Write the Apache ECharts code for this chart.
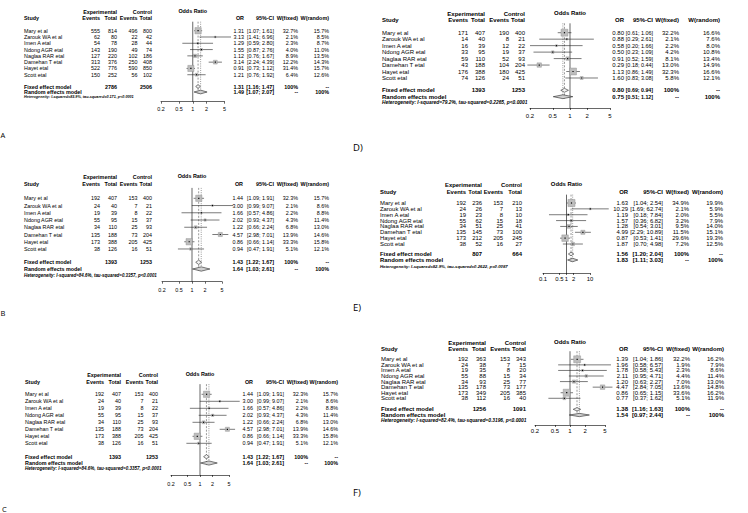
<!DOCTYPE html>
<html><head><meta charset="utf-8">
<script src="https://cdn.jsdelivr.net/npm/echarts@6/dist/echarts.min.js"></script>
<style>html,body{margin:0;padding:0;background:#fff}#c{width:748px;height:513px}</style>
</head><body><div id="c"></div>
<script>
const studies = ["Mary et al","Zarouk WA et al","Imen A etal","Ndong AGR etal","Naglaa RAR etal","Damehan T etal","Hayet etal","Scott etal"];

// Panel A
const A_expEvents = [555,62,54,143,127,313,522,150];
const A_expTotal = [814,80,78,190,220,376,776,252];
const A_ctrlEvents = [496,22,28,49,102,250,590,56];
const A_ctrlTotal = [800,42,44,74,186,408,850,102];
const A_or = [1.31,3.13,1.29,1.55,1.12,3.14,0.91,1.21];
const A_lower = [1.07,1.41,0.59,0.87,0.76,2.24,0.73,0.76];
const A_upper = [1.61,6.96,2.80,2.76,1.67,4.39,1.12,1.92];
const A_wFixed = [32.7,2.1,2.3,4.0,8.9,12.2,31.4,6.4];
const A_wRandom = [15.7,8.5,8.7,11.0,13.5,14.3,15.7,12.6];
const A_totals = [2786,2506];
const A_fixed = [1.31,1.16,1.47];
const A_random = [1.49,1.07,2.07];
const A_het = "Heterogeneity: I-squared=83.9%, tau-squared=0.171, p<0.0001";
const A_ticks = [0.2,0.5,1,2,5];
const A_tickLabels = ["0.2","0.5","1","2","5"];

// Panel B
const B_expEvents = [192,24,19,55,34,135,173,38];
const B_expTotal = [407,40,39,95,110,188,388,126];
const B_ctrlEvents = [153,7,8,15,25,73,205,16];
const B_ctrlTotal = [400,21,22,37,93,204,425,51];
const B_or = [1.44,3.00,1.66,2.02,1.22,4.57,0.86,0.94];
const B_lower = [1.09,0.99,0.57,0.93,0.66,2.98,0.66,0.47];
const B_upper = [1.91,9.07,4.86,4.37,2.24,7.01,1.14,1.91];
const B_wFixed = [32.3,2.1,2.2,4.3,6.8,13.9,33.3,5.1];
const B_wRandom = [15.7,8.6,8.8,11.4,13.0,14.6,15.8,12.1];
const B_totals = [1393,1253];
const B_fixed = [1.43,1.22,1.67];
const B_random = [1.64,1.03,2.61];
const B_het = "Heterogeneity: I-squared=84.6%, tau-squared=0.3357, p<0.0001";
const B_ticks = [0.2,0.5,1,2,5];
const B_tickLabels = ["0.2","0.5","1","2","5"];

// Panel C
const C_expEvents = [192,24,19,55,34,135,173,38];
const C_expTotal = [407,40,39,95,110,188,388,126];
const C_ctrlEvents = [153,7,8,15,25,73,205,16];
const C_ctrlTotal = [400,21,22,37,93,204,425,51];
const C_or = [1.44,3.00,1.66,2.02,1.22,4.57,0.86,0.94];
const C_lower = [1.09,0.99,0.57,0.93,0.66,2.98,0.66,0.47];
const C_upper = [1.91,9.07,4.86,4.37,2.24,7.01,1.14,1.91];
const C_wFixed = [32.3,2.1,2.2,4.3,6.8,13.9,33.3,5.1];
const C_wRandom = [15.7,8.6,8.8,11.4,13.0,14.6,15.8,12.1];
const C_totals = [1393,1253];
const C_fixed = [1.43,1.22,1.67];
const C_random = [1.64,1.03,2.61];
const C_het = "Heterogeneity: I-squared=84.6%, tau-squared=0.3357, p<0.0001";
const C_ticks = [0.2,0.5,1,2,5];
const C_tickLabels = ["0.2","0.5","1","2","5"];

// Panel D
const D_expEvents = [171,14,16,33,59,43,176,74];
const D_expTotal = [407,40,39,95,110,188,388,126];
const D_ctrlEvents = [190,8,12,19,52,104,180,24];
const D_ctrlTotal = [400,21,22,37,93,204,425,51];
const D_or = [0.80,0.88,0.58,0.50,0.91,0.29,1.13,1.60];
const D_lower = [0.61,0.29,0.20,0.23,0.52,0.18,0.86,0.83];
const D_upper = [1.06,2.61,1.66,1.09,1.59,0.44,1.49,3.08];
const D_wFixed = [32.2,2.1,2.2,4.2,8.1,13.0,32.3,5.8];
const D_wRandom = [16.6,7.6,8.0,10.8,13.4,14.9,16.6,12.1];
const D_totals = [1393,1253];
const D_fixed = [0.80,0.69,0.94];
const D_random = [0.75,0.51,1.12];
const D_het = "Heterogeneity: I-squared=79.2%, tau-squared=0.2265, p<0.0001";
const D_ticks = [0.2,0.5,1,2,5];
const D_tickLabels = ["0.2","0.5","1","2","5"];

// Panel E
const E_expEvents = [192,24,19,55,34,135,173,38];
const E_expTotal = [236,26,23,62,51,145,212,52];
const E_ctrlEvents = [153,7,8,15,25,73,205,16];
const E_ctrlTotal = [210,13,10,18,41,100,245,27];
const E_or = [1.63,10.29,1.19,1.57,1.28,4.99,0.87,1.87];
const E_lower = [1.04,1.69,0.18,0.36,0.54,2.29,0.53,0.70];
const E_upper = [2.54,62.74,7.84,6.82,3.01,10.89,1.41,4.98];
const E_wFixed = [34.9,2.1,2.0,3.2,9.5,11.5,29.6,7.2];
const E_wRandom = [19.9,5.9,5.5,7.9,14.0,15.1,19.3,12.5];
const E_totals = [807,664];
const E_fixed = [1.56,1.20,2.04];
const E_random = [1.83,1.11,3.03];
const E_het = "Heterogeneity: I-squared=82.9%, tau-squared=0.2622, p=0.0087";
const E_ticks = [0.1,0.5,1,2,10];
const E_tickLabels = ["0.1","0.5","1","2","10"];

// Panel F
const F_expEvents = [192,24,19,55,34,135,173,38];
const F_expTotal = [363,38,35,88,93,178,349,112];
const F_ctrlEvents = [153,7,8,15,25,73,205,16];
const F_ctrlTotal = [343,15,20,34,77,177,385,40];
const F_or = [1.39,1.96,1.78,2.11,1.20,4.47,0.86,0.77];
const F_lower = [1.04,0.58,0.58,0.95,0.63,2.84,0.65,0.37];
const F_upper = [1.86,6.57,5.43,4.71,2.27,7.05,1.15,1.62];
const F_wFixed = [32.2,1.9,2.3,4.4,7.0,13.6,33.6,5.1];
const F_wRandom = [16.2,7.9,8.6,11.4,13.0,14.8,16.2,11.9];
const F_totals = [1256,1091];
const F_fixed = [1.38,1.16,1.63];
const F_random = [1.54,0.97,2.44];
const F_het = "Heterogeneity: I-squared=82.4%, tau-squared=0.3196, p<0.0001";
const F_ticks = [0.2,0.5,1,2,5];
const F_tickLabels = ["0.2","0.5","1","2","5"];

// ---- layout (positions only) ----
const layA = {fs:5.4, x0:24, hdr1Y:12.3, hdr2Y:18.3, expEvR:100, expTotR:117, ctrlEvR:137.5, ctrlTotR:152, orR:244, ciR:274, wfR:298, wrR:329, axL:161, axR:224.5, row0:30.7, rowH:6.29, fixedY:86.5, randomY:92, hetY:97, hetW:110, axisY:101.7, tickY:110, lab:"A", labX:0.5, labY:135, labFs:7.5};
const layB = {fs:5.4, x0:24, hdr1Y:176.7, hdr2Y:184, expEvR:100, expTotR:117, ctrlEvR:137.5, ctrlTotR:152, orR:243, ciR:274, wfR:298, wrR:329, axL:162, axR:222, row0:198.3, rowH:7.24, fixedY:262.3, randomY:269, hetY:275, hetW:133, axisY:281.7, tickY:290.7, lab:"B", labX:0.5, labY:313, labFs:7.5};
const layC = {fs:5.4, x0:25, hdr1Y:375, hdr2Y:382.3, expEvR:104, expTotR:121, ctrlEvR:143.5, ctrlTotR:158, orR:253, ciR:284, wfR:308, wrR:338, axL:171, axR:229, row0:394.3, rowH:7.0, fixedY:456.7, randomY:463, hetY:468.5, hetW:137, axisY:475, tickY:484.3, lab:"C", labX:2, labY:509, labFs:7.5};
const layD = {fs:6, x0:382, hdr1Y:14, hdr2Y:20, expEvR:468, expTotR:485, ctrlEvR:509, ctrlTotR:525, orR:624, ciR:653, wfR:679, wrR:720, axL:530, axR:610, row0:32.7, rowH:6.47, fixedY:90.3, randomY:96.7, hetY:102.7, hetW:146, axisY:108, tickY:117, lab:"D)", labX:353, labY:147, labFs:9.5};
const layE = {fs:5.9, x0:380, hdr1Y:185, hdr2Y:192, expEvR:466, expTotR:482, ctrlEvR:503, ctrlTotR:522, orR:628, ciR:663, wfR:689, wrR:723, axL:543, axR:590, row0:203, rowH:5.86, fixedY:254, randomY:260, hetY:266, hetW:128, axisY:273, tickY:279.5, lab:"E)", labX:353, labY:307, labFs:9.5};
const layF = {fs:6, x0:381, hdr1Y:343, hdr2Y:349, expEvR:468, expTotR:486, ctrlEvR:510, ctrlTotR:526, orR:628, ciR:663, wfR:690, wrR:724, axL:535, axR:605, row0:359.3, rowH:5.57, fixedY:409.3, randomY:415, hetY:420.3, hetW:146, axisY:425, tickY:432, lab:"F)", labX:353, labY:492, labFs:9.5};

const panels = [
 {expEvents:A_expEvents, expTotal:A_expTotal, ctrlEvents:A_ctrlEvents, ctrlTotal:A_ctrlTotal, or:A_or, lower:A_lower, upper:A_upper, wFixed:A_wFixed, wRandom:A_wRandom, totals:A_totals, fixed:A_fixed, random:A_random, het:A_het, ticks:A_ticks, tickLabels:A_tickLabels, L:layA},
 {expEvents:B_expEvents, expTotal:B_expTotal, ctrlEvents:B_ctrlEvents, ctrlTotal:B_ctrlTotal, or:B_or, lower:B_lower, upper:B_upper, wFixed:B_wFixed, wRandom:B_wRandom, totals:B_totals, fixed:B_fixed, random:B_random, het:B_het, ticks:B_ticks, tickLabels:B_tickLabels, L:layB},
 {expEvents:C_expEvents, expTotal:C_expTotal, ctrlEvents:C_ctrlEvents, ctrlTotal:C_ctrlTotal, or:C_or, lower:C_lower, upper:C_upper, wFixed:C_wFixed, wRandom:C_wRandom, totals:C_totals, fixed:C_fixed, random:C_random, het:C_het, ticks:C_ticks, tickLabels:C_tickLabels, L:layC},
 {expEvents:D_expEvents, expTotal:D_expTotal, ctrlEvents:D_ctrlEvents, ctrlTotal:D_ctrlTotal, or:D_or, lower:D_lower, upper:D_upper, wFixed:D_wFixed, wRandom:D_wRandom, totals:D_totals, fixed:D_fixed, random:D_random, het:D_het, ticks:D_ticks, tickLabels:D_tickLabels, L:layD},
 {expEvents:E_expEvents, expTotal:E_expTotal, ctrlEvents:E_ctrlEvents, ctrlTotal:E_ctrlTotal, or:E_or, lower:E_lower, upper:E_upper, wFixed:E_wFixed, wRandom:E_wRandom, totals:E_totals, fixed:E_fixed, random:E_random, het:E_het, ticks:E_ticks, tickLabels:E_tickLabels, L:layE},
 {expEvents:F_expEvents, expTotal:F_expTotal, ctrlEvents:F_ctrlEvents, ctrlTotal:F_ctrlTotal, or:F_or, lower:F_lower, upper:F_upper, wFixed:F_wFixed, wRandom:F_wRandom, totals:F_totals, fixed:F_fixed, random:F_random, het:F_het, ticks:F_ticks, tickLabels:F_tickLabels, L:layF}
];

const FF = '"Liberation Sans", Arial, Helvetica, sans-serif';
const mctx = document.createElement('canvas').getContext('2d');
function fitFont(text, pre, targetW){ mctx.font = pre + ' 10px ' + FF; return 10*targetW/mctx.measureText(text).width; }

const graphics = [];
function T(x, y, text, o){
  o = o || {};
  const fam = o.fam || FF;
  graphics.push({type:'text', x:x, y:y, silent:true, z:100,
    style:{text:String(text), font:(o.it?'italic ':'')+(o.b?'bold ':'')+o.fs+'px '+fam, fill:'#000',
      textAlign:o.al||'left', textVerticalAlign:'middle'}});
}
const f2 = v => v.toFixed(2);
const pct = v => v.toFixed(1) + '%';
// confidence interval text, right-aligned in its column, shrunk if it would touch the OR column
function CI(L, y, lo, hi, bold){
  const s = '[' + f2(lo) + '; ' + f2(hi) + ']';
  const fsz = Math.min(L.fs, fitFont(s, bold ? 'bold' : 'normal', L.ciR - L.orR - 1.8));
  T(L.ciR, y, s, {fs:fsz, b:bold, al:'right'});
}

const grids=[], xAxes=[], yAxes=[], series=[];
panels.forEach((p, i) => {
  const L = p.L, fs = L.fs;
  const rowOf = y => (y - L.row0)/L.rowH;
  const vTop = -1.45, vBot = rowOf(L.axisY);
  const gridTop = L.row0 + vTop*L.rowH;
  grids.push({left:L.axL, top:gridTop, width:L.axR-L.axL, height:L.axisY-gridTop, containLabel:false, outerBoundsMode:'none'});
  const tl = p.ticks.map(t => Math.log10(t));
  xAxes.push({type:'value', gridIndex:i, min:tl[0], max:tl[tl.length-1],
    axisLine:{show:true, onZero:false, lineStyle:{color:'#000', width:0.6}},
    axisTick:{show:true, customValues:tl, length:2, lineStyle:{color:'#000', width:0.6}},
    axisLabel:{show:true, customValues:tl, hideOverlap:false, showMinLabel:true, showMaxLabel:true,
      formatter: v => { const k = tl.findIndex(t => Math.abs(t - v) < 1e-6); return k >= 0 ? p.tickLabels[k] : ''; },
      fontSize:fs, fontFamily:FF, color:'#000', margin: L.tickY - L.axisY - 0.6*fs},
    splitLine:{show:false}});
  yAxes.push({type:'value', gridIndex:i, inverse:true, min:vTop, max:vBot, show:false});

  const fixedRow = rowOf(L.fixedY), randomRow = rowOf(L.randomY);
  series.push({type:'line', xAxisIndex:i, yAxisIndex:i, data:[[0, vTop],[0, vBot]], symbol:'none', silent:true, animation:false,
    lineStyle:{color:'#000', width:0.6}, z:1});
  series.push({type:'line', xAxisIndex:i, yAxisIndex:i, data:[[Math.log10(p.fixed[0]), vTop],[Math.log10(p.fixed[0]), randomRow+0.3]], symbol:'none', silent:true, animation:false,
    lineStyle:{color:'#555', width:0.6, type:[2,1.5]}, z:1});
  series.push({type:'line', xAxisIndex:i, yAxisIndex:i, data:[[Math.log10(p.random[0]), vTop],[Math.log10(p.random[0]), randomRow+0.3]], symbol:'none', silent:true, animation:false,
    lineStyle:{color:'#555', width:0.6, type:[1,1.2]}, z:1});

  const boxBase = 6.3*fs/5.4;
  const sItems = p.or.map((v, k) => [Math.log10(v), Math.log10(p.lower[k]), Math.log10(p.upper[k]), k, p.wFixed[k]]);
  series.push({type:'custom', xAxisIndex:i, yAxisIndex:i, data:sItems, clip:false, silent:true, animation:false, z:3,
    renderItem:(params, api) => {
      const r = api.value(3);
      const c = api.coord([api.value(0), r]);
      const lo = api.coord([api.value(1), r]);
      const hi = api.coord([api.value(2), r]);
      const s = boxBase*Math.sqrt(api.value(4)/32.7);
      return {type:'group', children:[
        {type:'line', shape:{x1:lo[0], y1:lo[1], x2:hi[0], y2:hi[1]}, style:{stroke:'#222', lineWidth:0.6}},
        {type:'rect', shape:{x:c[0]-s/2, y:c[1]-s/2, width:s, height:s}, style:{fill:'#bdbdbd', stroke:'#8c8c8c', lineWidth:0.4}},
        {type:'rect', shape:{x:c[0]-0.6, y:c[1]-0.6, width:1.2, height:1.2}, style:{fill:'#000'}}
      ]};
    }});
  const dItems = [
    [Math.log10(p.fixed[0]), Math.log10(p.fixed[1]), Math.log10(p.fixed[2]), fixedRow, 0],
    [Math.log10(p.random[0]), Math.log10(p.random[1]), Math.log10(p.random[2]), randomRow, 1]
  ];
  const dh = 0.3*L.rowH;
  series.push({type:'custom', xAxisIndex:i, yAxisIndex:i, data:dItems, clip:false, silent:true, animation:false, z:4,
    renderItem:(params, api) => {
      const r = api.value(3);
      const c = api.coord([api.value(0), r]);
      const lo = api.coord([api.value(1), r]);
      const hi = api.coord([api.value(2), r]);
      return {type:'polygon', shape:{points:[[lo[0], c[1]], [c[0], c[1]-dh], [hi[0], c[1]], [c[0], c[1]+dh]]},
        style:{fill: api.value(4) ? '#d0d0d0' : '#f2f2f2', stroke:'#000', lineWidth:0.5}};
    }});

  // ---- table text ----
  T(L.expTotR, L.hdr1Y, 'Experimental', {fs, b:1, al:'right'});
  T(L.ctrlTotR, L.hdr1Y, 'Control', {fs, b:1, al:'right'});
  T((L.axL+L.axR)/2, L.hdr1Y-1, 'Odds Ratio', {fs, b:1, al:'center'});
  T(L.x0, L.hdr2Y, 'Study', {fs, b:1});
  T(L.expEvR, L.hdr2Y, 'Events', {fs, b:1, al:'right'});
  T(L.expTotR, L.hdr2Y, 'Total', {fs, b:1, al:'right'});
  T(L.ctrlEvR, L.hdr2Y, 'Events', {fs, b:1, al:'right'});
  T(L.ctrlTotR, L.hdr2Y, 'Total', {fs, b:1, al:'right'});
  T(L.orR, L.hdr2Y, 'OR', {fs, b:1, al:'right'});
  T(L.ciR, L.hdr2Y, '95%-CI', {fs, b:1, al:'right'});
  T(L.wfR, L.hdr2Y, 'W(fixed)', {fs, b:1, al:'right'});
  T(L.wrR, L.hdr2Y, 'W(random)', {fs, b:1, al:'right'});
  studies.forEach((name, k) => {
    const y = L.row0 + k*L.rowH;
    T(L.x0, y, name, {fs});
    T(L.expEvR, y, p.expEvents[k], {fs, al:'right'});
    T(L.expTotR, y, p.expTotal[k], {fs, al:'right'});
    T(L.ctrlEvR, y, p.ctrlEvents[k], {fs, al:'right'});
    T(L.ctrlTotR, y, p.ctrlTotal[k], {fs, al:'right'});
    T(L.orR, y, f2(p.or[k]), {fs, al:'right'});
    CI(L, y, p.lower[k], p.upper[k], 0);
    T(L.wfR, y, pct(p.wFixed[k]), {fs, al:'right'});
    T(L.wrR, y, pct(p.wRandom[k]), {fs, al:'right'});
  });
  T(L.x0, L.fixedY, 'Fixed effect model', {fs, b:1});
  T(L.expTotR, L.fixedY, p.totals[0], {fs, b:1, al:'right'});
  T(L.ctrlTotR, L.fixedY, p.totals[1], {fs, b:1, al:'right'});
  T(L.orR, L.fixedY, f2(p.fixed[0]), {fs, b:1, al:'right'});
  CI(L, L.fixedY, p.fixed[1], p.fixed[2], 1);
  T(L.wfR, L.fixedY, '100%', {fs, b:1, al:'right'});
  T(L.wrR, L.fixedY, '--', {fs, b:1, al:'right'});
  T(L.x0, L.randomY, 'Random effects model', {fs, b:1});
  T(L.orR, L.randomY, f2(p.random[0]), {fs, b:1, al:'right'});
  CI(L, L.randomY, p.random[1], p.random[2], 1);
  T(L.wfR, L.randomY, '--', {fs, b:1, al:'right'});
  T(L.wrR, L.randomY, '100%', {fs, b:1, al:'right'});
  T(L.x0, L.hetY, p.het, {fs: fitFont(p.het, 'italic bold', L.hetW), b:1, it:1});
  T(L.labX, L.labY, L.lab, {fs: L.labFs, fam:'"Open Sans", "Liberation Sans", sans-serif'});
});

const chart = echarts.init(document.getElementById('c'), null, {renderer:'svg'});
chart.setOption({
  backgroundColor:'#fff',
  animation:false,
  grid:grids, xAxis:xAxes, yAxis:yAxes, series:series,
  graphic:{elements:graphics}
});
</script></body></html>
